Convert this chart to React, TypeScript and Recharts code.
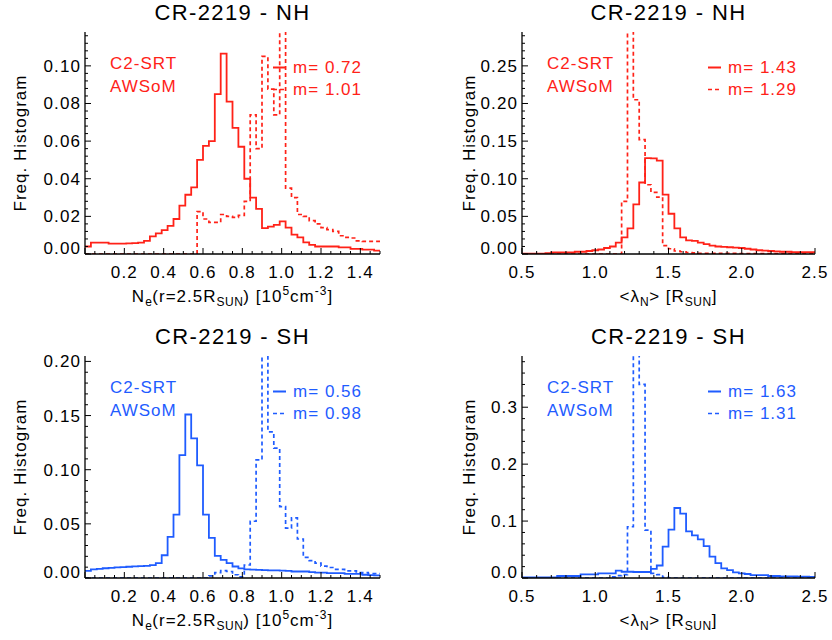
import React from 'react';
import { LineChart, Line, XAxis, YAxis } from 'recharts';

const RED = '#ff2218';
const BLUE = '#1f5cff';
const FONT = '"Liberation Sans", Arial, Helvetica, sans-serif';

// histogram binning (bin edges = start + i * width)
const neStart = 0;
const neWidth = 0.03;
const lamStart = 0.5;
const lamWidth = 0.04;

// tick labels
const neXLabels = ['0.2', '0.4', '0.6', '0.8', '1.0', '1.2', '1.4'];
const lamXLabels = ['0.5', '1.0', '1.5', '2.0', '2.5'];
const nhNeYLabels = ['0.00', '0.02', '0.04', '0.06', '0.08', '0.10'];
const nhLamYLabels = ['0.00', '0.05', '0.10', '0.15', '0.20', '0.25'];
const shNeYLabels = ['0.00', '0.05', '0.10', '0.15', '0.20'];
const shLamYLabels = ['0.0', '0.1', '0.2', '0.3'];

// CR-2219 NH, Ne(r=2.5Rsun)
const nhNeC2 = [
  0.004, 0.006, 0.006, 0.006, 0.0055, 0.0055, 0.0055, 0.0056, 0.0058, 0.006,
  0.007, 0.0094, 0.011, 0.0127, 0.015, 0.0186, 0.0257, 0.0315, 0.0354, 0.05,
  0.0575, 0.06, 0.085, 0.1065, 0.081, 0.067, 0.057, 0.04, 0.03, 0.024,
  0.0138, 0.0145, 0.0155, 0.0173, 0.014, 0.0103, 0.0088, 0.0062, 0.0048, 0.004,
  0.004, 0.004, 0.004, 0.0035, 0.0035, 0.0027, 0.0027, 0.0023, 0.0023, 0.0018,
];
const nhNeAws = [
  0, 0, 0, 0, 0, 0, 0, 0, 0, 0,
  0, 0, 0, 0, 0, 0, 0, 0, 0, 0.0225,
  0.0186, 0.0168, 0.0168, 0.021, 0.02, 0.0195, 0.0205, 0.028, 0.074, 0.056,
  0.105, 0.0876, 0.074, 0.16, 0.035, 0.03, 0.021, 0.02, 0.0177, 0.016,
  0.014, 0.013, 0.012, 0.0097, 0.0088, 0.0085, 0.007, 0.0067, 0.0067, 0.0067,
];

// CR-2219 NH, <lambda_N>
const nhLamC2 = [
  0.0005, 0.0005, 0.0005, 0.0005, 0.001, 0.002, 0.002, 0.002, 0.002, 0.003,
  0.003, 0.004, 0.005, 0.006, 0.008, 0.01, 0.015, 0.022, 0.034, 0.066,
  0.095, 0.1275, 0.127, 0.124, 0.079, 0.0535, 0.034, 0.022, 0.018, 0.0175,
  0.0152, 0.013, 0.011, 0.01, 0.0095, 0.009, 0.0085, 0.008, 0.007, 0.006,
  0.005, 0.0045, 0.004, 0.0035, 0.003, 0.003, 0.0025, 0.0025, 0.0025, 0.0025,
];
const nhLamAws = [
  0, 0, 0, 0, 0, 0, 0, 0, 0, 0,
  0, 0, 0, 0, 0, 0, 0, 0.07, 0.4, 0.205,
  0.152, 0.092, 0.082, 0.0755, 0.011, 0.007, 0.004, 0.003, 0.002, 0.0015,
  0.001, 0.001, 0.001, 0.001, 0.0008, 0.0008, 0.0008, 0.0006, 0.0006, 0.0006,
  0.0005, 0.0005, 0.0005, 0.0005, 0.0004, 0.0004, 0.0004, 0.0003, 0.0003, 0.0003,
];

// CR-2219 SH, Ne(r=2.5Rsun)
const shNeC2 = [
  0.0066, 0.008, 0.0085, 0.009, 0.0094, 0.0098, 0.01, 0.0104, 0.0108, 0.011,
  0.0112, 0.0118, 0.0137, 0.021, 0.038, 0.0585, 0.1135, 0.151, 0.129, 0.104,
  0.0585, 0.037, 0.0204, 0.0167, 0.0137, 0.0106, 0.0088, 0.008, 0.0078, 0.0075,
  0.0073, 0.007, 0.007, 0.0068, 0.0065, 0.006, 0.006, 0.006, 0.0055, 0.005,
  0.005, 0.0045, 0.0045, 0.0045, 0.0038, 0.0038, 0.0038, 0.003, 0.0027, 0.0025,
];
const shNeAws = [
  0, 0, 0, 0, 0, 0, 0, 0, 0, 0,
  0, 0, 0, 0, 0, 0, 0, 0, 0, 0,
  0, 0.002, 0.005, 0.0068, 0.006, 0.003, 0.001, 0.012, 0.0524, 0.109,
  0.3, 0.135, 0.12, 0.066, 0.046, 0.0555, 0.036, 0.019, 0.016, 0.0137,
  0.011, 0.0097, 0.008, 0.008, 0.0066, 0.0066, 0.005, 0.005, 0.004, 0.004,
];

// CR-2219 SH, <lambda_N>
const shLamC2 = [
  0.001, 0.001, 0.001, 0.001, 0.001, 0.001, 0.0035, 0.0035, 0.0035, 0.0035,
  0.0064, 0.0064, 0.0064, 0.008, 0.008, 0.008, 0.0128, 0.011, 0.011, 0.0105,
  0.0105, 0.0105, 0.016, 0.022, 0.055, 0.085, 0.123, 0.113, 0.082, 0.075,
  0.068, 0.056, 0.0376, 0.026, 0.017, 0.014, 0.01, 0.008, 0.007, 0.005,
  0.005, 0.005, 0.0035, 0.0035, 0.003, 0.003, 0.003, 0.0025, 0.0025, 0.002,
];
const shLamAws = [
  0, 0, 0, 0, 0, 0, 0, 0, 0, 0,
  0, 0, 0, 0, 0, 0.002, 0.004, 0.006, 0.09, 0.5,
  0.34, 0.084, 0.008, 0.006, 0.001, 0, 0, 0, 0, 0,
  0, 0, 0, 0, 0, 0, 0, 0, 0, 0,
  0, 0, 0, 0, 0, 0, 0, 0, 0, 0,
];

type Row = { x: number; c2: number; aws: number };

function histRows(start: number, width: number, c2: number[], aws: number[]): Row[] {
  const rows = c2.map((v, i) => ({ x: +(start + i * width).toFixed(4), c2: v, aws: aws[i] }));
  const n = c2.length;
  rows.push({ x: +(start + n * width).toFixed(4), c2: c2[n - 1], aws: aws[n - 1] });
  return rows;
}

function tickValues(min: number, max: number, step: number) {
  const n = Math.floor((max - min) / step + 1e-6);
  return Array.from({ length: n + 1 }, (_, k) => +(min + k * step).toFixed(6));
}

const tickText = { fontFamily: FONT, fontSize: 17, letterSpacing: 1.1, fill: '#000' };

type Side = 'bottom' | 'top' | 'left' | 'right';

function makeTick(side: Side, major: number, labels: string[]) {
  return (p: any) => {
    const v = p.payload.value as number;
    const isMaj = Math.abs(v / major - Math.round(v / major)) < 1e-4;
    const len = isMaj ? 6 : 3;
    const label = labels.find((l) => Math.abs(Number(l) - v) < 1e-6);
    const { x, y } = p;
    if (side === 'bottom') {
      return (
        <g>
          <line x1={x} x2={x} y1={y} y2={y - len} stroke="#000" strokeWidth={1} />
          {label && (
            <text x={x} y={y + 18} dy="0.35em" textAnchor="middle" style={tickText}>{label}</text>
          )}
        </g>
      );
    }
    if (side === 'top') {
      return <line x1={x} x2={x} y1={y} y2={y + len} stroke="#000" strokeWidth={1} />;
    }
    if (side === 'left') {
      return (
        <g>
          <line x1={x} x2={x + len} y1={y} y2={y} stroke="#000" strokeWidth={1} />
          {label && (
            <text x={x - 4} y={v === 0 ? y - 6 : y} dy="0.35em" textAnchor="end" style={tickText}>{label}</text>
          )}
        </g>
      );
    }
    return <line x1={x} x2={x - len} y1={y} y2={y} stroke="#000" strokeWidth={1} />;
  };
}

interface Box { l: number; r: number; t: number; b: number }

interface PanelProps {
  left: number;
  top: number;
  plot: Box;
  rows: Row[];
  color: string;
  xDomain: [number, number];
  xMinor: number;
  xMajor: number;
  xLabels: string[];
  yDomain: [number, number];
  yMinor: number;
  yMajor: number;
  yLabels: string[];
}

const CW = 416;
const CH = 320;
const XAXIS_H = 40;
const axisLine = { stroke: '#000', strokeWidth: 1.3 };

function Panel(props: PanelProps) {
  const { left, top, plot, rows, color, xDomain, yDomain } = props;
  const xt = tickValues(xDomain[0], xDomain[1], props.xMinor);
  const yt = tickValues(yDomain[0], yDomain[1], props.yMinor);
  return (
    <div style={{ position: 'absolute', left, top, width: CW, height: CH }}>
      <LineChart
        width={CW}
        height={CH}
        data={rows}
        margin={{ top: plot.t - top, left: 0, right: left + CW - plot.r, bottom: top + CH - plot.b - XAXIS_H }}
      >
        <XAxis xAxisId="b" dataKey="x" type="number" domain={xDomain} allowDataOverflow ticks={xt} interval={0}
          tickSize={0} tickMargin={0} height={XAXIS_H} axisLine={axisLine} tickLine={false}
          tick={makeTick('bottom', props.xMajor, props.xLabels)} />
        <XAxis xAxisId="t" orientation="top" dataKey="x" type="number" domain={xDomain} allowDataOverflow ticks={xt}
          interval={0} tickSize={0} tickMargin={0} height={0} axisLine={axisLine} tickLine={false}
          tick={makeTick('top', props.xMajor, [])} />
        <YAxis yAxisId="l" type="number" domain={yDomain} allowDataOverflow ticks={yt} interval={0}
          tickSize={0} tickMargin={0} width={plot.l - left} axisLine={axisLine} tickLine={false}
          tick={makeTick('left', props.yMajor, props.yLabels)} />
        <YAxis yAxisId="r" orientation="right" type="number" domain={yDomain} allowDataOverflow ticks={yt}
          interval={0} tickSize={0} tickMargin={0} width={0} axisLine={axisLine} tickLine={false}
          tick={makeTick('right', props.yMajor, [])} />
        <Line xAxisId="b" yAxisId="l" type="stepAfter" dataKey="aws" stroke={color} strokeWidth={1.7}
          strokeDasharray="4 3" dot={false} isAnimationActive={false} />
        <Line xAxisId="b" yAxisId="l" type="stepAfter" dataKey="c2" stroke={color} strokeWidth={1.8}
          dot={false} isAnimationActive={false} />
      </LineChart>
    </div>
  );
}

const sub = { fontSize: 12, position: 'relative' as const, top: 4, letterSpacing: 0.5 };
const sup = { fontSize: 12, position: 'relative' as const, top: -7 };

function Overlay({ plot, title, xLabel, yLabelX, color, mC2, mAws }: {
  plot: Box; title: string; xLabel: React.ReactNode; yLabelX: number; color: string; mC2: string; mAws: string;
}) {
  const cx = (plot.l + plot.r) / 2;
  const cy = (plot.t + plot.b) / 2;
  const center = (x: number, y: number): React.CSSProperties => ({
    position: 'absolute', left: x, top: y, transform: 'translate(-50%, -50%)', whiteSpace: 'nowrap', lineHeight: 1,
  });
  const row = (y: number): React.CSSProperties => ({
    position: 'absolute', top: y, transform: 'translateY(-50%)', whiteSpace: 'nowrap', lineHeight: 1,
    color, fontSize: 17, letterSpacing: 1,
  });
  const rightEdge = 832 - (plot.r - 18);
  return (
    <>
      <div style={{ ...center(cx, plot.t - 19), fontSize: 22, letterSpacing: 1.4 }}>{title}</div>
      <div style={{ ...center(yLabelX, cy), transform: 'translate(-50%, -50%) rotate(-90deg)', fontSize: 17, letterSpacing: 1 }}>
        Freq. Histogram
      </div>
      <div style={{ ...center(cx, plot.b + 42), fontSize: 17, letterSpacing: 1 }}>{xLabel}</div>
      <div style={{ ...row(plot.t + 30.5), left: plot.l + 25 }}>C2-SRT</div>
      <div style={{ ...row(plot.t + 54), left: plot.l + 25 }}>AWSoM</div>
      <div style={{ ...row(plot.t + 35), right: rightEdge, display: 'flex', alignItems: 'center' }}>
        <svg width={13} height={4} style={{ marginRight: 7 }}>
          <line x1={0} x2={13} y1={2} y2={2} stroke={color} strokeWidth={1.8} />
        </svg>
        <span>m= {mC2}</span>
      </div>
      <div style={{ ...row(plot.t + 57), right: rightEdge, display: 'flex', alignItems: 'center' }}>
        <svg width={13} height={4} style={{ marginRight: 7 }}>
          <line x1={0} x2={13} y1={2} y2={2} stroke={color} strokeWidth={1.7} strokeDasharray="4 3" />
        </svg>
        <span>m= {mAws}</span>
      </div>
    </>
  );
}

const neLabel = (
  <span>
    N<span style={sub}>e</span>(r=2.5R<span style={sub}>SUN</span>) [10<span style={sup}>5</span>cm<span style={sup}>-3</span>]
  </span>
);
const lamLabel = (
  <span>
    &lt;λ<span style={sub}>N</span>&gt; [R<span style={sub}>SUN</span>]
  </span>
);

const P1: Box = { l: 85, r: 380, t: 32, b: 254 };
const P2: Box = { l: 522, r: 815, t: 32, b: 254 };
const P3: Box = { l: 85, r: 380, t: 356, b: 578 };
const P4: Box = { l: 522, r: 815, t: 356, b: 578 };

export default function App() {
  return (
    <div style={{ position: 'absolute', left: 0, top: 0, width: 832, height: 640, background: '#fff', fontFamily: FONT, color: '#000' }}>
      <Panel left={0} top={0} plot={P1} rows={histRows(neStart, neWidth, nhNeC2, nhNeAws)} color={RED}
        xDomain={[0, 1.5]} xMinor={0.05} xMajor={0.2} xLabels={neXLabels}
        yDomain={[0, 0.118]} yMinor={0.004} yMajor={0.02} yLabels={nhNeYLabels} />
      <Panel left={416} top={0} plot={P2} rows={histRows(lamStart, lamWidth, nhLamC2, nhLamAws)} color={RED}
        xDomain={[0.5, 2.5]} xMinor={0.1} xMajor={0.5} xLabels={lamXLabels}
        yDomain={[0, 0.295]} yMinor={0.01} yMajor={0.05} yLabels={nhLamYLabels} />
      <Panel left={0} top={324} plot={P3} rows={histRows(neStart, neWidth, shNeC2, shNeAws)} color={BLUE}
        xDomain={[0, 1.5]} xMinor={0.05} xMajor={0.2} xLabels={neXLabels}
        yDomain={[0, 0.205]} yMinor={0.01} yMajor={0.05} yLabels={shNeYLabels} />
      <Panel left={416} top={324} plot={P4} rows={histRows(lamStart, lamWidth, shLamC2, shLamAws)} color={BLUE}
        xDomain={[0.5, 2.5]} xMinor={0.1} xMajor={0.5} xLabels={lamXLabels}
        yDomain={[0, 0.39]} yMinor={0.02} yMajor={0.1} yLabels={shLamYLabels} />
      <Overlay plot={P1} title="CR-2219 - NH" xLabel={neLabel} yLabelX={20} color={RED} mC2="0.72" mAws="1.01" />
      <Overlay plot={P2} title="CR-2219 - NH" xLabel={lamLabel} yLabelX={469} color={RED} mC2="1.43" mAws="1.29" />
      <Overlay plot={P3} title="CR-2219 - SH" xLabel={neLabel} yLabelX={20} color={BLUE} mC2="0.56" mAws="0.98" />
      <Overlay plot={P4} title="CR-2219 - SH" xLabel={lamLabel} yLabelX={469} color={BLUE} mC2="1.63" mAws="1.31" />
    </div>
  );
}
